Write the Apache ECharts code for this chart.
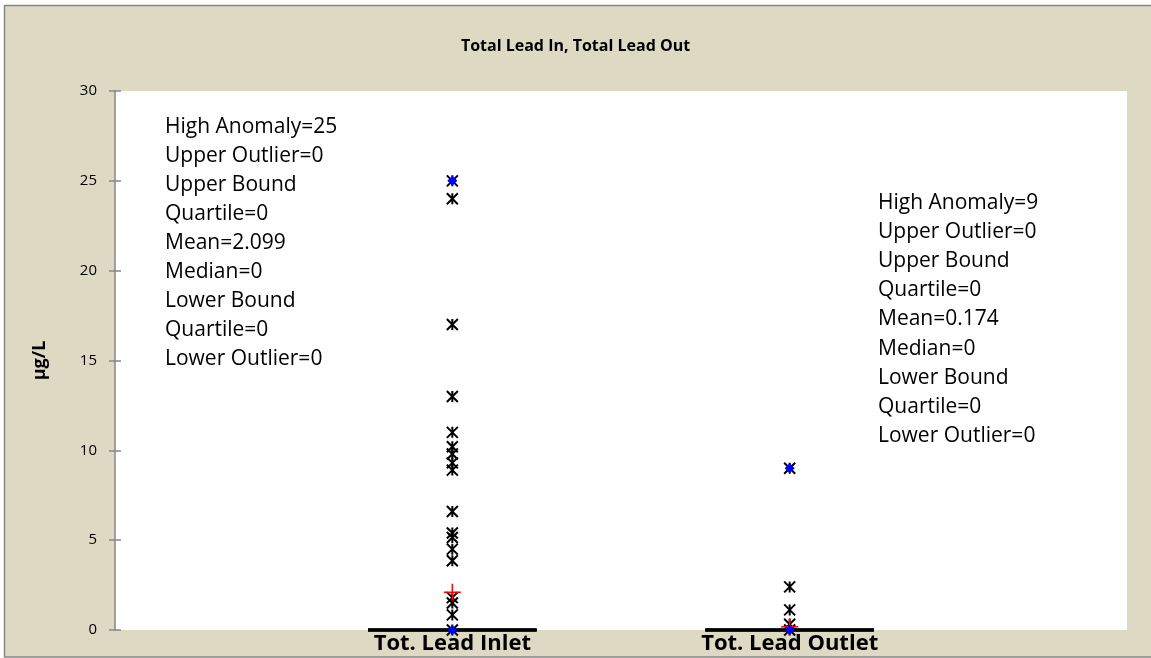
<!DOCTYPE html>
<html>
<head>
<meta charset="utf-8">
<style>
  html, body { margin: 0; padding: 0; background: #fff; }
  #chart { width: 1151px; height: 658px; }
</style>
<script src="https://cdn.jsdelivr.net/npm/echarts/dist/echarts.min.js"></script>
</head>
<body>
<div id="chart"></div>
<script>
// categories and values
var categories = ['Tot. Lead Inlet', 'Tot. Lead Outlet'];
var inletValues = [25, 24, 17, 13, 11, 10.2, 9.8, 9.3, 8.9, 6.6, 5.4, 5.15, 4.5, 3.85, 1.8, 1.5, 0.84, 0];
var outletValues = [9, 2.4, 1.12, 0.32, 0];
var highAnomaly = [25, 9];
var upperOutlier = [0, 0];
var upperQuartile = [0, 0];
var meanValues = [2.099, 0.174];
var medianValues = [0, 0];
var lowerQuartile = [0, 0];
var lowerOutlier = [0, 0];
var minValues = [0, 0];
var yMin = 0, yMax = 30, yStep = 5;

var font = '"Open Sans", "Noto Sans", sans-serif';

function pts(values, idx) {
    return values.map(function(v) { return [idx + 1, v]; });
}
function perCat(arr) {
    return arr.map(function(v, i) { return [i + 1, v]; });
}

var starData = pts(inletValues, 0).concat(pts(outletValues, 1));
var boxData = perCat(lowerQuartile).concat(perCat(medianValues), perCat(upperQuartile));

function statText(i) {
    return [
        'High Anomaly=' + highAnomaly[i],
        'Upper Outlier=' + upperOutlier[i],
        'Upper Bound',
        'Quartile=' + upperQuartile[i],
        'Mean=' + meanValues[i],
        'Median=' + medianValues[i],
        'Lower Bound',
        'Quartile=' + lowerQuartile[i],
        'Lower Outlier=' + lowerOutlier[i]
    ].join('\n');
}

var option = {
    animation: false,
    backgroundColor: '#fff',
    title: {
        text: 'Total Lead In, Total Lead Out',
        left: 'center',
        top: 33,
        textStyle: { fontFamily: font, fontSize: 16, fontWeight: 'bold', color: '#000' }
    },
    graphic: [{
        type: 'rect',
        z: -10,
        silent: true,
        shape: { x: 4.5, y: 5.5, width: 1160, height: 651.5 },
        style: { fill: '#DDD9C3', stroke: '#868686', lineWidth: 1.5 }
    }, {
        type: 'text',
        left: 165,
        top: 113,
        z: 50,
        style: { text: statText(0), fontFamily: font, fontSize: 21, lineHeight: 29, fill: '#000' }
    }, {
        type: 'text',
        left: 878,
        top: 188,
        z: 50,
        style: { text: statText(1), fontFamily: font, fontSize: 21, lineHeight: 29.2, fill: '#000' }
    }],
    grid: {
        left: 115,
        right: 24,
        top: 91,
        bottom: 28,
        show: true,
        backgroundColor: '#fff',
        borderWidth: 0
    },
    xAxis: {
        type: 'value',
        min: 0,
        max: categories.length + 1,
        interval: 1,
        axisLine: { show: false },
        axisTick: { show: false },
        splitLine: { show: false },
        axisLabel: {
            margin: 3,
            fontFamily: font,
            fontSize: 22,
            fontWeight: 'bold',
            color: '#000',
            formatter: function(v) { return categories[v - 1] || ''; }
        }
    },
    yAxis: [{
        type: 'value',
        min: yMin,
        max: yMax,
        interval: yStep,
        name: 'µg/L',
        nameLocation: 'middle',
        nameGap: 66,
        nameTextStyle: { fontFamily: font, fontSize: 18, fontWeight: 'bold', color: '#000' },
        axisLine: { show: true, lineStyle: { color: '#868686', width: 1.5 } },
        axisTick: { show: true, length: 6, lineStyle: { color: '#868686', width: 1.5 } },
        splitLine: { show: false },
        axisLabel: { margin: 18, fontFamily: font, fontSize: 15, color: '#000' }
    }, {
        type: 'value',
        min: yMin,
        max: yMax,
        interval: yStep,
        position: 'left',
        axisLine: { show: false },
        axisTick: { show: true, inside: true, length: 6, lineStyle: { color: '#868686', width: 1.5 } },
        axisLabel: { show: false },
        splitLine: { show: false }
    }],
    series: [{
        // box lines (quartiles / median), all at zero here
        type: 'custom',
        z: 2,
        clip: false,
        data: boxData,
        renderItem: function(params, api) {
            var x = api.value(0), y = api.value(1);
            var a = api.coord([x - 0.25, y]);
            var b = api.coord([x + 0.25, y]);
            return {
                type: 'line',
                shape: { x1: a[0], y1: a[1], x2: b[0], y2: b[1] },
                style: { stroke: '#000', lineWidth: 3 }
            };
        }
    }, {
        type: 'scatter',
        z: 3,
        data: starData,
        symbol: 'path://M0,0L10,10M10,0L0,10M5,0L5,10',
        symbolSize: 11,
        itemStyle: { color: 'none', borderColor: '#000', borderWidth: 2, opacity: 1 }
    }, {
        type: 'scatter',
        z: 4,
        data: perCat(meanValues),
        symbol: 'path://M0,8L16,8M8,0L8,16',
        symbolSize: 17,
        itemStyle: { color: 'none', borderColor: '#ff0000', borderWidth: 1.5, opacity: 1 }
    }, {
        type: 'scatter',
        z: 5,
        data: perCat(highAnomaly).concat(perCat(minValues)),
        symbol: 'diamond',
        symbolSize: 10,
        itemStyle: { color: '#0000ff', opacity: 1 }
    }]
};

var myChart = echarts.init(document.getElementById('chart'));
myChart.setOption(option);
</script>
</body>
</html>
